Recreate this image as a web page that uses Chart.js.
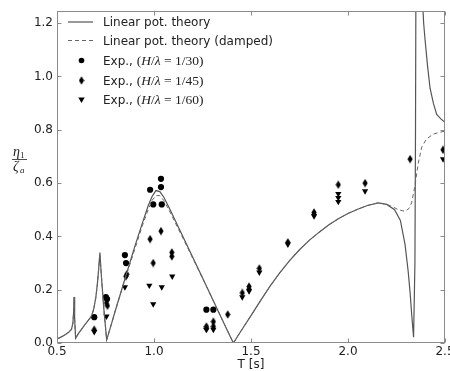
<!DOCTYPE html>
<html>
<head>
<meta charset="utf-8">
<script src="https://cdn.jsdelivr.net/npm/chart.js@4/dist/chart.umd.min.js"></script>
<style>
  html, body { margin: 0; padding: 0; background: #fff; overflow: hidden; }
  #wrap { position: absolute; left: 0; top: 0; width: 460px; height: 371px; }
</style>
</head>
<body>
<div id="wrap"><canvas id="c"></canvas></div>
<script>
// Linear potential theory, [T, eta1/zeta_a]
const theory = [
  [0.50,0.015],[0.52,0.022],[0.54,0.030],[0.56,0.040],[0.575,0.052],[0.582,0.075],
  [0.586,0.12],[0.588,0.173],[0.591,0.09],[0.596,0.018],[0.61,0.035],[0.63,0.055],
  [0.65,0.075],[0.67,0.093],[0.68,0.105],[0.69,0.13],[0.70,0.17],[0.708,0.22],
  [0.715,0.28],[0.721,0.339],[0.728,0.26],[0.74,0.14],[0.756,0.012],[0.78,0.07],
  [0.80,0.12],[0.85,0.24],[0.90,0.36],[0.94,0.45],[0.97,0.515],[0.99,0.55],
  [1.01,0.572],[1.03,0.568],[1.05,0.548],[1.08,0.505],[1.15,0.398],[1.25,0.245],
  [1.35,0.09],[1.409,0.0],[1.45,0.047],[1.50,0.103],[1.55,0.16],[1.60,0.215],
  [1.65,0.265],[1.70,0.31],[1.75,0.35],[1.80,0.385],[1.85,0.415],[1.90,0.443],
  [1.95,0.466],[2.00,0.486],[2.05,0.502],[2.10,0.516],[2.156,0.526],[2.20,0.52],
  [2.24,0.50],[2.27,0.46],[2.294,0.37],[2.31,0.27],[2.32,0.19],[2.328,0.11],
  [2.338,0.022],[2.345,0.3],[2.348,0.8],[2.351,1.6],[2.36,3.0],[2.375,3.0],
  [2.383,1.3],[2.39,1.2],[2.397,1.14],[2.41,1.04],[2.423,0.956],[2.44,0.9],
  [2.457,0.858],[2.48,0.84],[2.50,0.828]
];

// Linear potential theory (damped)
const theoryDamped = [
  [0.50,0.015],[0.52,0.022],[0.54,0.030],[0.56,0.040],[0.575,0.052],[0.582,0.075],
  [0.586,0.12],[0.588,0.17],[0.591,0.09],[0.596,0.018],[0.61,0.035],[0.63,0.055],
  [0.65,0.075],[0.67,0.093],[0.68,0.105],[0.69,0.13],[0.70,0.17],[0.708,0.22],
  [0.715,0.28],[0.721,0.335],[0.728,0.26],[0.74,0.14],[0.756,0.012],[0.78,0.07],
  [0.80,0.12],[0.85,0.238],[0.90,0.35],[0.94,0.44],[0.97,0.50],[0.99,0.535],
  [1.01,0.553],[1.03,0.553],[1.05,0.535],[1.08,0.495],[1.15,0.392],[1.25,0.243],
  [1.35,0.09],[1.409,0.0],[1.45,0.047],[1.50,0.103],[1.55,0.16],[1.60,0.215],
  [1.65,0.265],[1.70,0.31],[1.75,0.35],[1.80,0.385],[1.85,0.415],[1.90,0.443],
  [1.95,0.466],[2.00,0.486],[2.05,0.502],[2.10,0.516],[2.156,0.526],[2.20,0.52],
  [2.233,0.51],[2.26,0.50],[2.294,0.494],[2.315,0.505],[2.328,0.526],[2.345,0.59],
  [2.362,0.674],[2.38,0.735],[2.405,0.766],[2.44,0.784],[2.47,0.79],[2.50,0.795]
];

// Experiments
const exp30 = [
  [0.692,0.097],[0.752,0.172],[0.758,0.165],[0.85,0.33],[0.856,0.30],[0.98,0.575],
  [0.996,0.52],[1.036,0.616],[1.036,0.585],[1.04,0.52],[1.27,0.125],[1.306,0.125]
];
const exp45 = [
  [0.692,0.05],[0.755,0.15],[0.76,0.14],[0.855,0.25],[0.86,0.258],[0.98,0.39],
  [0.996,0.30],[1.036,0.42],[1.092,0.34],[1.092,0.325],[1.27,0.062],[1.27,0.055],
  [1.306,0.08],[1.306,0.062],[1.38,0.107],[1.455,0.188],[1.49,0.212],[1.49,0.202],
  [1.543,0.28],[1.69,0.378],[1.825,0.49],[1.825,0.482],[1.95,0.594],[2.088,0.60],
  [2.32,0.69],[2.49,0.725]
];
const exp60 = [
  [0.692,0.042],[0.755,0.10],[0.85,0.21],[0.976,0.216],[0.996,0.146],[1.04,0.21],
  [1.094,0.25],[1.27,0.05],[1.306,0.05],[1.455,0.172],[1.49,0.195],[1.543,0.265],
  [1.69,0.37],[1.825,0.476],[1.95,0.56],[1.95,0.545],[1.95,0.53],[2.088,0.57],
  [2.49,0.69]
];

const xTicks = [0.5, 1.0, 1.5, 2.0, 2.5];
const yTicks = [0.0, 0.2, 0.4, 0.6, 0.8, 1.0, 1.2];

const legendLabels = [
  'Linear pot. theory',
  'Linear pot. theory (damped)',
  '1/30', '1/45', '1/60'
];

const FONT = 'DejaVu Sans';
const TEXT = '#222';
const FRAME = '#8a8a8a';

// thin diamond marker (matplotlib 'd')
function thinDiamond() {
  const c = document.createElement('canvas');
  c.width = 6; c.height = 9;
  const g = c.getContext('2d');
  g.fillStyle = '#000';
  g.beginPath();
  g.moveTo(3, 0.2); g.lineTo(5.6, 4.5); g.lineTo(3, 8.8); g.lineTo(0.4, 4.5);
  g.closePath(); g.fill();
  return c;
}
const diamondImg = thinDiamond();

const toXY = arr => arr.map(([x, y]) => ({ x, y }));

// frame + inward ticks, like matplotlib classic
const framePlugin = {
  id: 'frame',
  afterDatasetsDraw(chart) {
    const { ctx, chartArea: a, scales: { x, y } } = chart;
    const L = Math.round(a.left) + 0.5, R = Math.round(a.right) - 0.5;
    const T = Math.round(a.top) + 0.5, B = Math.round(a.bottom) - 0.5;
    ctx.save();
    ctx.strokeStyle = FRAME;
    ctx.lineWidth = 1;
    ctx.strokeRect(L, T, R - L, B - T);
    ctx.beginPath();
    for (const v of xTicks) {
      const px = Math.round(x.getPixelForValue(v)) + 0.5;
      ctx.moveTo(px, B); ctx.lineTo(px, B - 4);
      ctx.moveTo(px, T); ctx.lineTo(px, T + 4);
    }
    for (const v of yTicks) {
      const py = Math.round(y.getPixelForValue(v)) + 0.5;
      ctx.moveTo(L, py); ctx.lineTo(L + 4, py);
      ctx.moveTo(R, py); ctx.lineTo(R - 4, py);
    }
    ctx.stroke();
    ctx.restore();
  },
  afterDraw(chart) {
    const ctx = chart.ctx;
    ctx.save();
    ctx.fillStyle = TEXT;
    ctx.textBaseline = 'alphabetic';

    // y label: eta_1 / zeta_a
    ctx.font = 'italic 14px "Liberation Serif"';
    ctx.fillText('η', 13, 156);
    ctx.font = '9px "Liberation Serif"';
    ctx.fillText('1', 20, 158);
    ctx.fillRect(12, 159, 15, 0.8);
    ctx.font = 'italic 14px "Liberation Serif"';
    ctx.fillText('ζ', 13, 171);
    ctx.font = 'italic 9px "Liberation Serif"';
    ctx.fillText('a', 20, 173);

    // legend
    const rows = [22, 40.5, 60.5, 80.5, 100];
    const sx0 = 68, sx1 = 93, mx = 81.5, tx = 103;
    ctx.strokeStyle = '#555';
    ctx.lineWidth = 1.2;
    ctx.beginPath(); ctx.moveTo(sx0, rows[0]); ctx.lineTo(sx1, rows[0]); ctx.stroke();
    ctx.strokeStyle = '#666';
    ctx.lineWidth = 1;
    ctx.setLineDash([4, 3]);
    ctx.beginPath(); ctx.moveTo(sx0, rows[1]); ctx.lineTo(sx1, rows[1]); ctx.stroke();
    ctx.setLineDash([]);

    ctx.fillStyle = '#000';
    ctx.beginPath(); ctx.arc(mx, rows[2], 2.8, 0, Math.PI * 2); ctx.fill();
    ctx.drawImage(diamondImg, mx - 3, rows[3] - 4.5);
    ctx.beginPath();
    ctx.moveTo(mx - 3.2, rows[4] - 2.6); ctx.lineTo(mx + 3.2, rows[4] - 2.6); ctx.lineTo(mx, rows[4] + 3);
    ctx.closePath(); ctx.fill();

    ctx.fillStyle = TEXT;
    ctx.font = '12px "' + FONT + '"';
    ctx.fillText(legendLabels[0], tx, rows[0] + 4);
    ctx.fillText(legendLabels[1], tx, rows[1] + 4);
    for (let i = 2; i < 5; i++) {
      const base = rows[i] + 4;
      let cx = tx;
      const seg = (s, f) => { ctx.font = f; ctx.fillText(s, cx, base); cx += ctx.measureText(s).width; };
      seg('Exp., ', '12px "' + FONT + '"');
      seg('(', '13.5px "Liberation Serif"');
      seg('H', 'italic 13.5px "Liberation Serif"');
      seg('/', '13.5px "Liberation Serif"');
      seg('λ', 'italic 13.5px "Liberation Serif"');
      seg(' = ', '13.5px "Liberation Serif"');
      seg(legendLabels[i] + ')', '13.5px "Liberation Serif"');
    }
    ctx.restore();
  }
};

new Chart(document.getElementById('c'), {
  type: 'scatter',
  data: {
    datasets: [
      {
        label: 'Linear pot. theory (damped)',
        data: toXY(theoryDamped),
        showLine: true, borderColor: '#666', borderWidth: 1, borderDash: [4, 3],
        pointRadius: 0, tension: 0,
      },
      {
        label: 'Linear pot. theory',
        data: toXY(theory),
        showLine: true, borderColor: '#555', borderWidth: 1.2,
        pointRadius: 0, tension: 0,
      },
      {
        label: 'Exp. 1/30',
        data: toXY(exp30),
        pointStyle: 'circle', pointRadius: 3.1,
        backgroundColor: '#000', borderColor: '#000', borderWidth: 0,
      },
      {
        label: 'Exp. 1/45',
        data: toXY(exp45),
        pointStyle: diamondImg, pointRadius: 4,
        backgroundColor: '#000', borderColor: '#000', borderWidth: 0,
      },
      {
        label: 'Exp. 1/60',
        data: toXY(exp60),
        pointStyle: 'triangle', rotation: 180, pointRadius: 3.6,
        backgroundColor: '#000', borderColor: '#000', borderWidth: 0,
      },
    ],
  },
  options: {
    responsive: true,
    maintainAspectRatio: false,
    animation: false,
    layout: { padding: { top: 5, right: 15, left: 0, bottom: 0 } },
    plugins: {
      legend: { display: false },
      tooltip: { enabled: false },
    },
    scales: {
      x: {
        type: 'linear', min: 0.5, max: 2.5,
        afterBuildTicks: s => { s.ticks = xTicks.map(v => ({ value: v })); },
        afterFit: s => { s.height = 28; },
        grid: { display: false, drawTicks: false },
        border: { display: false },
        ticks: {
          color: TEXT, padding: 2, maxRotation: 0, autoSkip: false,
          font: { family: FONT, size: 12 },
          callback: v => v.toFixed(1),
        },
        title: {
          display: true, text: 'T [s]', color: TEXT,
          font: { family: FONT, size: 12 },
          padding: { top: 0, bottom: -1 },
        },
      },
      y: {
        type: 'linear', min: 0, max: 1.245,
        afterBuildTicks: s => { s.ticks = yTicks.map(v => ({ value: v })); },
        afterFit: s => { s.width = 57; },
        grid: { display: false, drawTicks: false },
        border: { display: false },
        ticks: {
          color: TEXT, padding: 4, autoSkip: false,
          font: { family: FONT, size: 12 },
          callback: v => v.toFixed(1),
        },
      },
    },
  },
  plugins: [framePlugin],
});
</script>
</body>
</html>
